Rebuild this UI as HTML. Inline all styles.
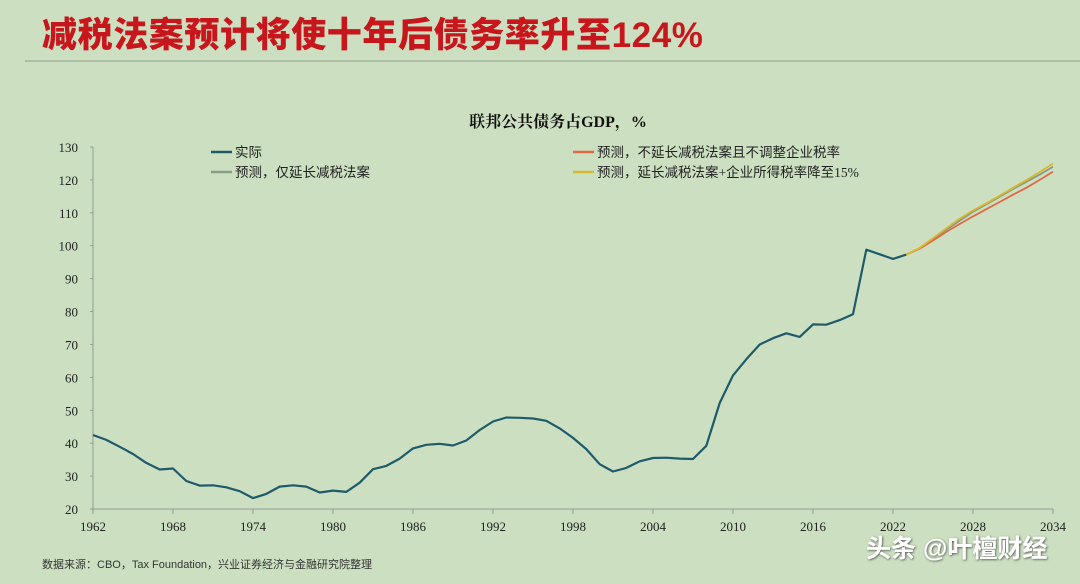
<!DOCTYPE html>
<html><head><meta charset="utf-8"><style>
body{margin:0;width:1080px;height:579px;background:#cce0c1;overflow:hidden;font-family:"Liberation Serif","Noto Serif CJK SC",serif}
</style></head><body>
<svg id="s" width="1080" height="579" xmlns="http://www.w3.org/2000/svg">
<defs><filter id="sh" x="-10%" y="-30%" width="120%" height="160%"><feDropShadow dx="0.8" dy="0.8" stdDeviation="1" flood-color="#333" flood-opacity="0.8"/></filter></defs>
<text x="42" y="47" font-family="'Liberation Sans','Noto Sans CJK SC',sans-serif" font-weight="900" font-size="35" letter-spacing="0.6" fill="#c8161d">减税法案预计将使十年后债务率升至124%</text>
<line x1="25" y1="61" x2="1080" y2="61" stroke="#9aab94" stroke-width="1.2"/>
<text x="558" y="127" text-anchor="middle" font-family="'Liberation Serif','Noto Serif CJK SC',serif" font-weight="bold" font-size="16" fill="#111">联邦公共债务占GDP，%</text>
<g id="ax" font-size="13" fill="#222"></g>
<g font-family="'Liberation Serif','Noto Sans CJK SC',serif" font-size="13.5" fill="#222">
<line x1="211" y1="152" x2="232" y2="152" stroke="#1f5a6b" stroke-width="2.5"/><text x="235" y="157">实际</text>
<line x1="211" y1="172" x2="232" y2="172" stroke="#8a9a8a" stroke-width="2.5"/><text x="235" y="177">预测，仅延长减税法案</text>
<line x1="573" y1="152" x2="594" y2="152" stroke="#e06a45" stroke-width="2.5"/><text x="597" y="157">预测，不延长减税法案且不调整企业税率</text>
<line x1="573" y1="172" x2="594" y2="172" stroke="#d8b82c" stroke-width="2.5"/><text x="597" y="177">预测，延长减税法案+企业所得税率降至15%</text>
</g>
<g id="lines"></g>
<text x="42" y="568" font-family="'Liberation Sans','Noto Sans CJK SC',sans-serif" font-size="11" fill="#333">数据来源：CBO，Tax Foundation，兴业证券经济与金融研究院整理</text>
<text x="866" y="557" font-family="'Liberation Sans','Noto Sans CJK SC',sans-serif" font-weight="bold" font-size="25" fill="#fff" filter="url(#sh)">头条 @叶檀财经</text>
</svg>
<script>
var ns="http://www.w3.org/2000/svg";
function X(y){return 93+(y-1962)*960/72}
function Y(v){return 509-(v-20)*3.2909}
function el(t,a,p,txt){var e=document.createElementNS(ns,t);for(var k in a)e.setAttribute(k,a[k]);if(txt)e.textContent=txt;p.appendChild(e);return e}
var ax=document.getElementById('ax'),L=document.getElementById('lines');
el('line',{x1:93,y1:147,x2:93,y2:509,stroke:'#999','stroke-width':1},ax);
el('line',{x1:93,y1:509,x2:1053,y2:509,stroke:'#999','stroke-width':1},ax);
for(var v=20;v<=130;v+=10){el('line',{x1:90,y1:Y(v),x2:93,y2:Y(v),stroke:'#999'},ax);el('text',{x:78,y:Y(v)+5,'text-anchor':'end'},ax,v)}
for(var y=1962;y<=2034;y+=6){el('line',{x1:X(y),y1:509,x2:X(y),y2:514,stroke:'#999'},ax);el('text',{x:X(y),y:531,'text-anchor':'middle'},ax,y)}
var d=[42.5,41,38.9,36.7,34,32,32.3,28.5,27.1,27.2,26.6,25.4,23.3,24.6,26.8,27.2,26.8,25.0,25.6,25.2,28,32.1,33.1,35.3,38.4,39.5,39.8,39.3,40.8,44,46.6,47.8,47.7,47.5,46.8,44.5,41.6,38.2,33.6,31.4,32.5,34.5,35.5,35.6,35.3,35.2,39.2,52.2,60.6,65.5,70,71.9,73.4,72.3,76.1,76,77.4,79.2,98.8,97.4,96,97.3];
function pl(arr,start,c,w){var p=arr.map(function(v,i){return X(start+i).toFixed(1)+','+Y(v).toFixed(1)}).join(' ');el('polyline',{points:p,fill:'none',stroke:c,'stroke-width':w,'stroke-linejoin':'round'},L)}
pl(d,1962,'#1f5a6b',2.2);
var g=[97.3,99.3,102,104.8,107.6,110.3,112.6,114.9,117.2,119.4,121.6,124];
var r=[97.3,99.1,101.6,104.2,106.6,108.9,111.1,113.3,115.5,117.6,120,122.5];
var yl=[97.3,99.3,102.3,105.3,108.2,110.7,112.9,115.2,117.6,119.9,122.4,125];
pl(g,2023,'#8a9a8a',1.8);pl(r,2023,'#e06a45',1.8);pl(yl,2023,'#d8b82c',1.8);
</script>
</body></html>
